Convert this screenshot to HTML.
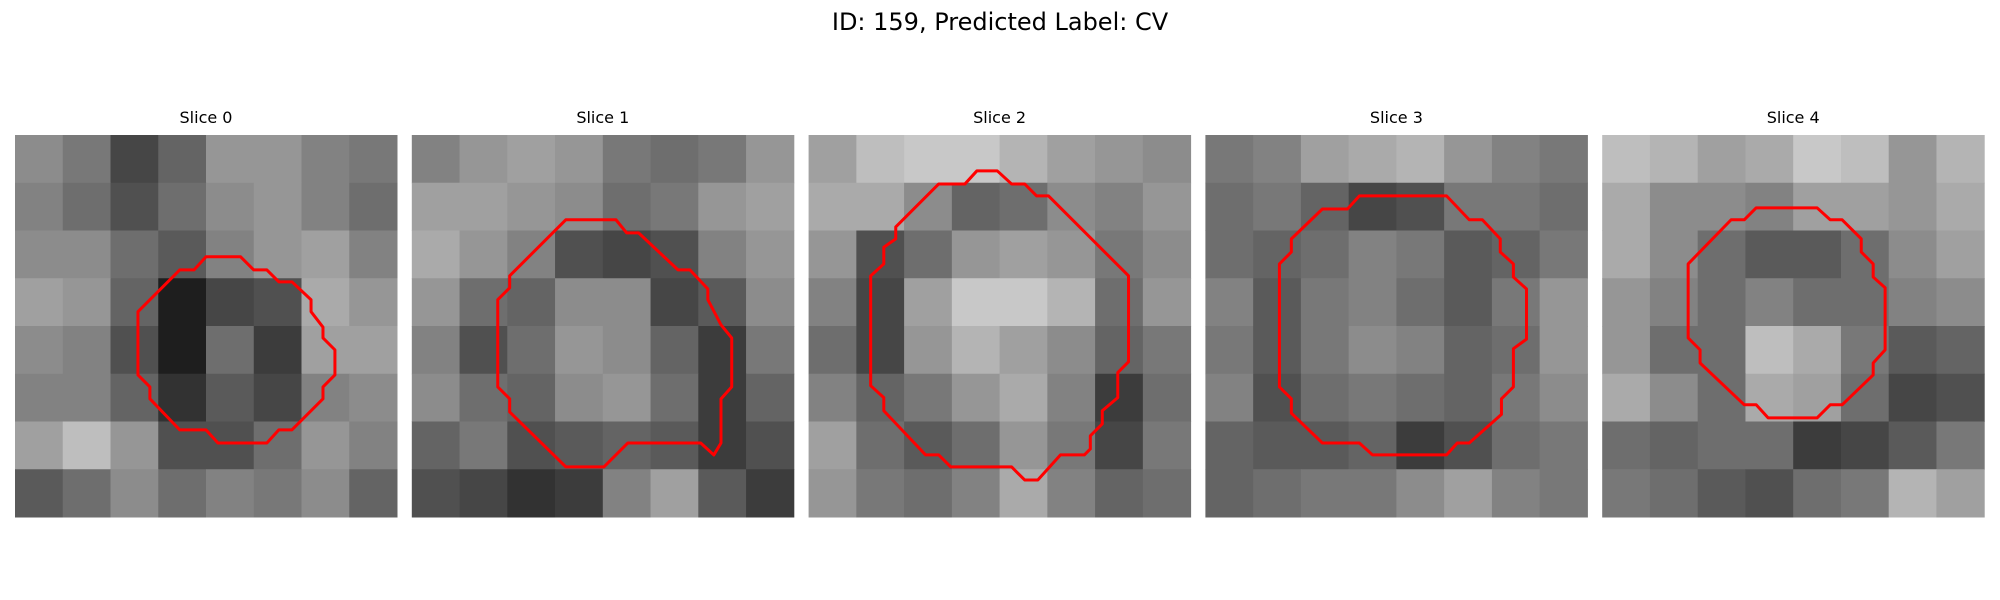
<!DOCTYPE html>
<html><head><meta charset="utf-8">
<style>
html,body{margin:0;padding:0;background:#fff;}
svg{display:block;}
text{font-family:"DejaVu Sans","Liberation Sans",sans-serif;}
</style></head>
<body>
<svg id="fig" width="2000" height="600" viewBox="0 0 2000 600">
<text x="1000" y="30" text-anchor="middle" font-size="24" fill="#000">ID: 159, Predicted Label: CV</text>
</svg>
<script>
const sliceTitles = ["Slice 0","Slice 1","Slice 2","Slice 3","Slice 4"];
// coarse 8x8 grey levels (0-255) per slice
const grey0 = [
[140,120,70,100,150,150,130,120],[130,110,80,110,140,150,130,110],[140,140,110,90,130,150,160,130],[160,150,100,30,70,80,170,150],
[140,130,80,30,110,60,160,160],[130,130,100,50,90,70,130,140],[160,190,150,80,80,110,150,130],[90,110,140,110,130,120,140,100]];
const grey1 = [
[130,150,160,150,120,110,120,150],[160,160,150,140,110,120,150,160],[170,150,130,80,70,80,130,150],[150,110,100,140,140,70,90,140],
[130,80,110,150,140,100,60,120],[140,110,100,140,150,110,60,100],[100,120,80,90,100,90,60,80],[80,70,50,60,130,160,90,60]];
const grey2 = [
[160,190,200,200,180,160,150,140],[170,170,140,100,110,140,130,150],[150,80,110,150,160,150,120,140],[130,70,160,200,200,180,110,150],
[110,70,150,180,160,140,100,120],[130,100,120,150,170,130,60,110],[160,110,90,110,150,120,70,120],[150,120,110,130,170,130,100,110]];
const grey3 = [
[120,130,160,170,180,150,130,120],[110,120,100,70,80,120,120,110],[110,100,110,130,120,90,100,120],[130,90,120,130,110,90,120,150],
[120,90,120,140,130,100,110,150],[130,80,110,120,110,100,120,140],[100,90,90,100,60,80,110,120],[100,110,120,120,140,160,130,120]];
const grey4 = [
[190,180,160,170,200,190,150,180],[170,140,140,130,160,160,150,170],[170,140,110,90,90,110,140,160],[150,130,110,130,110,110,130,140],
[150,110,110,190,170,120,90,100],[170,140,110,170,160,110,70,80],[110,100,110,110,60,70,90,120],[120,110,90,80,110,120,180,160]];
const greys = [grey0,grey1,grey2,grey3,grey4];
// contours in image pixel units (32x32 image)
const contour0 = [[16,10.2],[18.9,10.2],[20,11.3],[21.1,11.3],[22.1,12.3],[23.2,12.3],[24.8,13.8],[24.8,14.8],[25.8,16.1],[25.8,17],[26.8,18],[26.8,20.1],[25.8,21.1],[25.8,22.1],[23.2,24.7],[22.1,24.7],[21.1,25.8],[17,25.8],[16,24.7],[13.8,24.7],[11.3,22.1],[11.3,21.1],[10.3,20.1],[10.3,14.8],[13.8,11.3],[15,11.3]];
const contour1 = [[12.9,7.1],[17.1,7.1],[18,8.2],[19,8.2],[22.3,11.3],[23.3,11.3],[24.8,12.9],[24.8,13.8],[25.9,15.9],[26.8,17],[26.8,21.1],[25.9,22.1],[25.9,25.8],[25.3,26.8],[24.2,25.8],[18.1,25.8],[16.1,27.8],[12.9,27.8],[8.2,23.2],[8.2,22.1],[7.2,21.1],[7.2,13.8],[8.2,12.8],[8.2,11.8]];
const contour2 = [[14.1,3],[15.8,3],[17,4.1],[18.1,4.1],[19.1,5.1],[20.1,5.1],[26.8,11.8],[26.8,19],[25.9,19.9],[25.9,22],[24.6,23.1],[24.6,24.2],[23.6,25.2],[23.6,26.3],[23.1,26.8],[21.1,26.8],[19.2,28.9],[18.1,28.9],[17,27.8],[11.9,27.8],[10.9,26.8],[9.8,26.8],[6.3,23.1],[6.3,22],[5.2,21],[5.2,11.8],[6.3,10.8],[6.3,9.4],[7.3,8.7],[7.3,7.7],[10.9,4.1],[13.1,4.1]];
const contour3 = [[12.9,5.1],[20.2,5.1],[22.1,7.1],[23.2,7.1],[24.7,8.7],[24.7,9.8],[25.8,10.8],[25.8,11.9],[26.9,12.9],[26.9,17.1],[25.8,17.9],[25.8,21.1],[24.8,22.1],[24.8,23.4],[22.1,25.8],[21.1,25.8],[20.2,26.8],[14,26.8],[12.9,25.8],[9.8,25.8],[7.2,23.3],[7.2,22.1],[6.2,21.1],[6.2,10.8],[7.2,9.8],[7.2,8.7],[9.8,6.2],[11.9,6.2]];
const contour4 = [[12.9,6.1],[18,6.1],[19.1,7.1],[20.1,7.1],[21.7,8.7],[21.7,9.8],[22.7,10.8],[22.7,11.9],[23.7,12.8],[23.7,18],[22.7,19.1],[22.7,20.1],[20.1,22.6],[19.1,22.6],[18,23.7],[13.9,23.7],[12.9,22.6],[11.9,22.6],[8.2,19.1],[8.2,18],[7.2,17],[7.2,10.8],[10.8,7.1],[11.9,7.1]];
const contours = [contour0,contour1,contour2,contour3,contour4];

const NS = "http://www.w3.org/2000/svg";
const svg = document.getElementById('fig');
const panelX0 = 15, panelStep = 396.8, panelY0 = 135, panelSize = 382, imgPx = 32;
function px(v){ return v * panelSize / imgPx; }

for (let p = 0; p < 5; p++) {
  const ox = panelX0 + p * panelStep;
  const g = document.createElementNS(NS, 'g');
  
  
  g.setAttribute('transform', 'translate(' + ox + ',' + panelY0 + ')');
  svg.appendChild(g);

  const t = document.createElementNS(NS, 'text');
  
  
  t.setAttribute('x', panelSize / 2);
  t.setAttribute('y', -12);
  t.setAttribute('text-anchor', 'middle');
  t.setAttribute('font-size', '16');
  t.textContent = sliceTitles[p];
  g.appendChild(t);

  const grid = greys[p];
  const n = grid.length, cell = panelSize / n;
  for (let r = 0; r < n; r++) for (let c = 0; c < grid[r].length; c++) {
    const v = grid[r][c];
    const rect = document.createElementNS(NS, 'rect');
    
    
    rect.setAttribute('x', c * cell);
    rect.setAttribute('y', r * cell);
    rect.setAttribute('width', cell + 0.5);
    rect.setAttribute('height', cell + 0.5);
    rect.setAttribute('fill', 'rgb(' + v + ',' + v + ',' + v + ')');
    g.appendChild(rect);
  }

  const poly = document.createElementNS(NS, 'polygon');
  
  
  poly.setAttribute('points', contours[p].map(pt => px(pt[0]) + ',' + px(pt[1])).join(' '));
  poly.setAttribute('fill', 'none');
  poly.setAttribute('stroke', '#ff0000');
  poly.setAttribute('stroke-width', '3');
  poly.setAttribute('stroke-linejoin', 'round');
  g.appendChild(poly);
}
</script>
</body></html>
